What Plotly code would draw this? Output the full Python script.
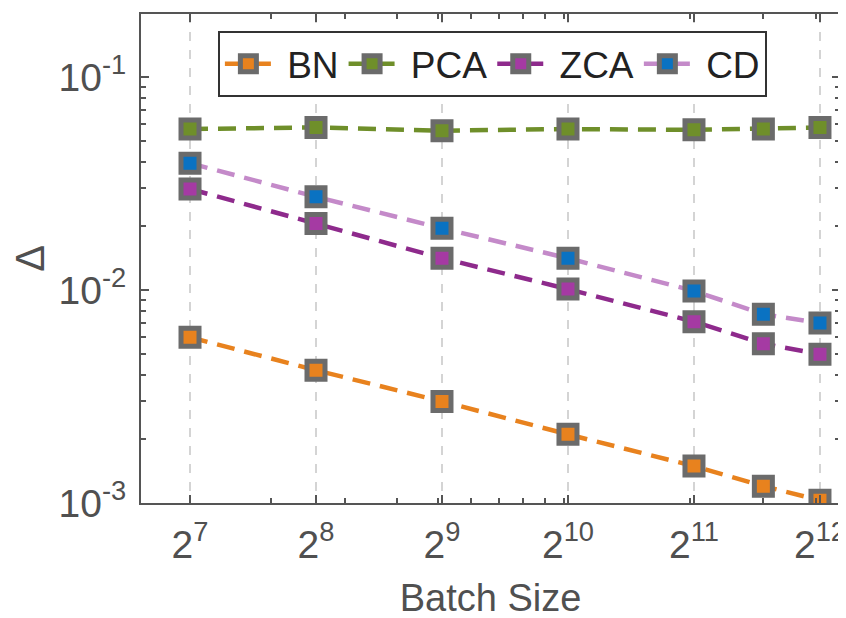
import plotly.graph_objects as go
import math

batch = [128, 256, 512, 1024, 2048, 3000, 4096]
bn  = [0.0060, 0.0042, 0.0030, 0.0021, 0.00149, 0.00120, 0.00103]
pca = [0.057, 0.058, 0.056, 0.057, 0.0565, 0.057, 0.058]
zca = [0.0298, 0.0205, 0.0141, 0.0101, 0.0071, 0.0056, 0.0050]
cd  = [0.0394, 0.0274, 0.0195, 0.0141, 0.0099, 0.0077, 0.0070]

series = [
    ("BN", bn, "#e8821e", "#e8821e"),
    ("PCA", pca, "#6f8f2a", "#6f8f2a"),
    ("ZCA", zca, "#8e2a8c", "#a53aa3"),
    ("CD", cd, "#c48ac9", "#0a72c2"),
]

xtick_vals = [128, 256, 512, 1024, 2048, 4096]
xtick_text = ["2<sup>7</sup>", "2<sup>8</sup>", "2<sup>9</sup>", "2<sup>10</sup>", "2<sup>11</sup>", "2<sup>12</sup>"]
ytick_vals = [0.001, 0.01, 0.1]
ytick_text = ["10<sup>-3</sup>", "10<sup>-2</sup>", "10<sup>-1</sup>"]

x_minor = [200, 300, 400, 500, 600, 700, 800, 900, 1000, 2000, 3000, 4000]
y_minor = [m * d for d in (0.001, 0.01, 0.1) for m in range(2, 10)]

fig = go.Figure()
for name, vals, lc, fc in series:
    fig.add_trace(go.Scatter(
        x=batch, y=vals, name="\u00a0" + name, mode="lines+markers",
        line=dict(color=lc, width=4.5, dash="18px,10px"),
        marker=dict(symbol="square", size=18, color=fc,
                    line=dict(color="#6b6b6b", width=5)),
    ))

axcol = "#555555"
fig.update_layout(
    width=846, height=618,
    margin=dict(l=133, r=14, t=6, b=123),
    paper_bgcolor="white", plot_bgcolor="white",
    font=dict(family="Liberation Sans", color="#505050"),
    showlegend=True,
    legend=dict(
        orientation="h", x=0.11, y=0.965, xanchor="left", yanchor="top",
        bgcolor="white", bordercolor="#333333", borderwidth=2,
        font=dict(size=37, color="#222222"), itemwidth=47,
        tracegroupgap=0,
    ),
    xaxis=dict(
        type="log", range=[math.log10(2 ** 6.611), math.log10(2 ** 12.159)],
        tickmode="array", tickvals=xtick_vals, ticktext=xtick_text,
        tickfont=dict(size=39, color="#505050"),
        ticks="inside", ticklen=8, tickwidth=2, tickcolor=axcol,
        ticklabelstandoff=6, ticklabeloverflow="allow",
        showline=True, linecolor=axcol, linewidth=2, mirror="ticks",
        showgrid=True, gridcolor="#d4d4d4", gridwidth=1.5, griddash="dash",
        minor=dict(tickmode="array", tickvals=x_minor, ticks="inside", ticklen=5,
                   tickwidth=2, tickcolor=axcol, showgrid=False),
        title=dict(text="Batch Size", font=dict(size=38, color="#505050"), standoff=20),
        zeroline=False, automargin=False,
    ),
    yaxis=dict(
        type="log", range=[-3, -0.704],
        tickmode="array", tickvals=ytick_vals, ticktext=ytick_text,
        tickfont=dict(size=39, color="#505050"),
        ticks="inside", ticklen=8, tickwidth=2, tickcolor=axcol,
        ticklabelstandoff=5, ticklabeloverflow="allow",
        showline=True, linecolor=axcol, linewidth=2, mirror="ticks",
        showgrid=False,
        minor=dict(tickmode="array", tickvals=y_minor, ticks="inside", ticklen=5,
                   tickwidth=2, tickcolor=axcol, showgrid=False),
        title=dict(text="Δ", font=dict(size=40, color="#505050"), standoff=5),
        zeroline=False, automargin=False,
    ),
)

fig.write_html("out.html")
